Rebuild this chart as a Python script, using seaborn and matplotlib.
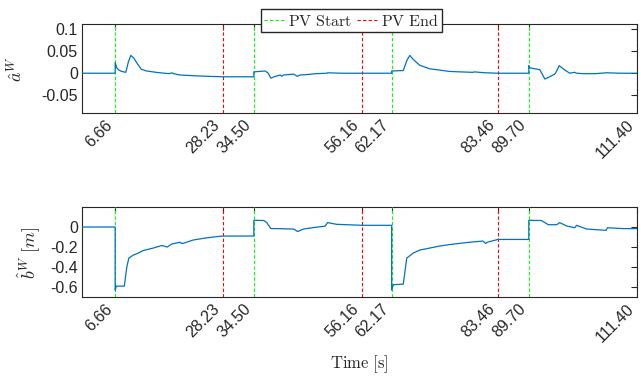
# %%

import matplotlib
matplotlib.use("Agg")
import matplotlib.pyplot as plt
import seaborn as sns


# %%
# pose-variation windows (s)
pv_start = [6.66, 34.50, 62.17, 89.70]
pv_end = [28.23, 56.16, 83.46, 111.40]

# estimated a^W
t_a = [0, 6.66, 6.66, 7.0, 7.4, 8.0, 8.8, 9.3, 9.8, 10.4, 11.2, 11.9, 13.0,
       14.9, 16.5, 17.6, 18.0, 18.4, 19.7, 21.5, 23.0, 25.5, 28.2, 34.5,
       34.5, 35.5, 36.8, 37.4, 37.9, 38.8, 39.8, 40.1, 40.4, 41.5, 42.5,
       43.2, 43.8, 45.2, 47.0, 49.2, 49.3, 52.0, 56.2, 62.17, 62.17, 64.5,
       65.2, 65.8, 66.6, 67.8, 69.8, 71.8, 73.8, 76.0, 78.5, 78.7, 81.0,
       83.5, 89.7, 89.7, 89.9, 90.5, 91.9, 92.4, 92.9, 93.9, 94.9, 95.2,
       95.8, 96.6, 97.9, 98.9, 99.3, 100.6, 103.0, 105.3, 108.0, 111.4]
a_w = [0, 0, 0.024, 0.012, 0.007, 0.004, 0.002, 0.025, 0.040, 0.034, 0.020,
       0.009, 0.005, 0.002, 0.0, -0.001, 0.001, -0.001, -0.004, -0.005,
       -0.006, -0.007, -0.008, -0.008, 0.003, 0.004, 0.005, 0.0, -0.011,
       -0.007, -0.004, -0.007, -0.004, -0.003, -0.002, -0.007, -0.004,
       -0.003, -0.001, 0.0, 0.001, 0.0, 0.0, 0.0, 0.005, 0.006, 0.028,
       0.040, 0.030, 0.018, 0.010, 0.007, 0.004, 0.003, 0.002, 0.003, 0.001,
       0.0, 0.0, 0.017, 0.012, 0.011, 0.008, -0.002, -0.013, -0.008,
       -0.002, 0.003, 0.017, 0.010, 0.0, 0.002, 0.0, -0.001, -0.001, 0.001,
       0.0, 0.0]

# estimated b^W (m)
t_b = [0, 6.66, 6.66, 6.9, 8.5, 9.0, 9.4, 10.3, 11.3, 12.3, 14.3, 16.0,
       16.5, 17.1, 18.0, 19.7, 20.0, 20.5, 22.3, 25.0, 28.2, 34.5, 34.5,
       36.5, 37.1, 37.9, 40.0, 42.5, 43.3, 44.5, 46.5, 48.8, 49.3, 51.1,
       56.3, 62.17, 62.17, 62.5, 64.5, 65.2, 66.5, 67.8, 69.8, 71.8, 73.8,
       77.2, 80.5, 81.0, 81.5, 83.5, 89.7, 89.7, 92.2, 92.9, 93.6, 95.3,
       95.9, 97.3, 98.9, 99.3, 101.3, 105.2, 105.5, 108.6, 111.4]
b_w = [0, 0, -0.63, -0.59, -0.59, -0.40, -0.31, -0.28, -0.26, -0.235,
       -0.21, -0.185, -0.19, -0.20, -0.17, -0.152, -0.165, -0.16, -0.13,
       -0.108, -0.09, -0.09, 0.067, 0.065, 0.044, -0.015, -0.017, -0.02,
       -0.045, -0.02, -0.005, 0.008, 0.044, 0.027, 0.017, 0.017, -0.63,
       -0.576, -0.57, -0.31, -0.26, -0.23, -0.21, -0.19, -0.175, -0.155,
       -0.14, -0.163, -0.15, -0.124, -0.124, 0.067, 0.065, 0.045, 0.023,
       0.023, 0.044, 0.01, -0.007, 0.017, -0.02, -0.033, -0.007, -0.016,
       -0.016]

a_ticks = [-0.05, 0, 0.05, 0.1]
a_labels = ["-0.05", "0", "0.05", "0.1"]
b_ticks = [-0.6, -0.4, -0.2, 0]
b_labels = ["-0.6", "-0.4", "-0.2", "0"]

# %%
sns.set_theme(style="white")
plt.rcParams["font.family"] = ["Liberation Sans", "DejaVu Sans"]
plt.rcParams["mathtext.fontset"] = "cm"

fig = plt.figure(figsize=(6.43, 3.8), dpi=100)
ax1 = fig.add_axes([0.1275, 0.702, 0.863, 0.234])
ax2 = fig.add_axes([0.1275, 0.218, 0.863, 0.236])

x_ticks = sorted(pv_start + pv_end)

for ax, t, v in [(ax1, t_a, a_w), (ax2, t_b, b_w)]:
    for i, x in enumerate(pv_start):
        ax.axvline(x, color="#00ff00", lw=0.8, ls=(0, (3, 2)), zorder=2.6,
                   label="$\\mathrm{PV\\ Start}$" if i == 0 else None)
    for i, x in enumerate(pv_end):
        ax.axvline(x, color="#ff0000", lw=0.8, ls=(0, (3, 2)), zorder=2.6,
                   label="$\\mathrm{PV\\ End}$" if i == 0 else None)
    sns.lineplot(x=t, y=v, ax=ax, color="#0072bd", lw=0.9,
                 estimator=None, sort=False, zorder=3, legend=False)
    if ax.get_legend() is not None:
        ax.get_legend().remove()
    ax.set_xlim(0, 111.4)
    ax.set_xticks(x_ticks)
    ax.set_xticklabels([f"{x:.2f}" for x in x_ticks], rotation=45,
                       ha="right", va="top")
    ax.tick_params(direction="in", length=4, width=0.8, top=True, right=True,
                   labelsize=11.5, colors="#262626", pad=3)
    for s in ax.spines.values():
        s.set_color("#262626")
        s.set_linewidth(0.8)

ax1.set_ylim(-0.09, 0.11)
ax1.set_yticks(a_ticks)
ax1.set_yticklabels(a_labels)
ax1.set_ylabel("$\\hat{a}^W$", fontsize=13)
ax1.yaxis.set_label_coords(-0.10, 0.5)

ax2.set_ylim(-0.70, 0.195)
ax2.set_yticks(b_ticks)
ax2.set_yticklabels(b_labels)
ax2.set_ylabel("$\\hat{b}^W\\ [m]$", fontsize=13)
ax2.yaxis.set_label_coords(-0.072, 0.5)
ax2.set_xlabel("$\\mathrm{Time\\ [s]}$", fontsize=12, va="top")
ax2.xaxis.set_label_coords(0.5, -0.63)

handles, labels = ax1.get_legend_handles_labels()
fig.legend(handles, labels, loc="center", bbox_to_anchor=(0.547, 0.946),
           ncol=2, fontsize=11.5, frameon=True, fancybox=False,
           framealpha=1, edgecolor="#262626", handlelength=1.3,
           handletextpad=0.2, columnspacing=0.3, borderpad=0.2,
           borderaxespad=0)

plt.savefig("out.png", dpi=100)
